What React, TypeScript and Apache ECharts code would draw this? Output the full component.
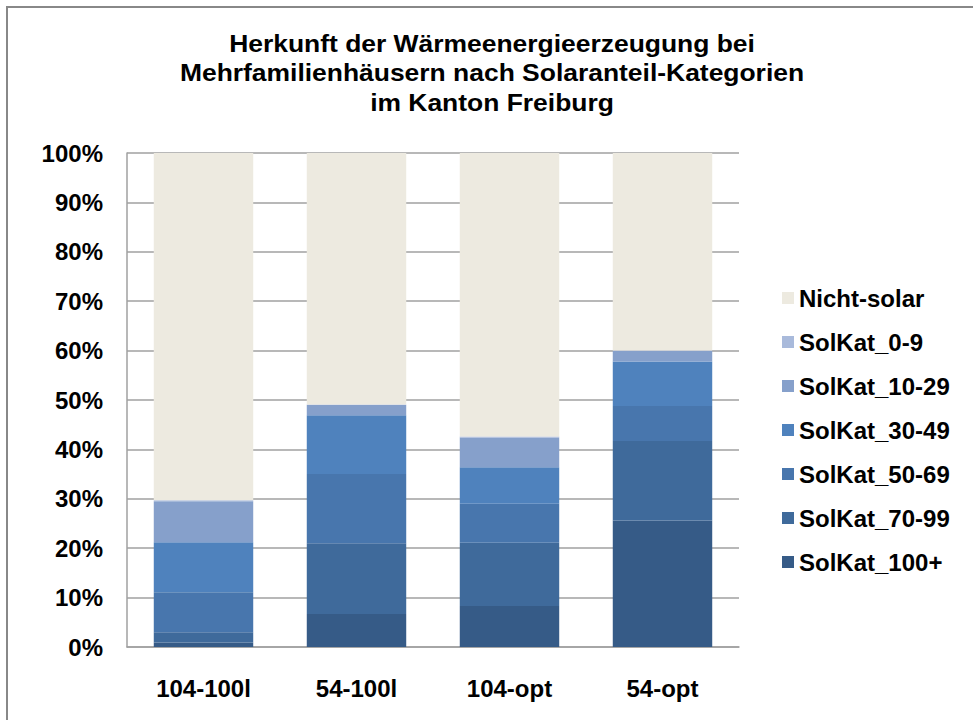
import React, { useEffect, useRef } from "react";
import * as echarts from "echarts";

const categories = ["104-100l", "54-100l", "104-opt", "54-opt"];
const solKat100 = [0.9, 6.7, 8.3, 25.6];
const solKat70 = [2.1, 14.3, 12.8, 16.1];
const solKat50 = [8.1, 14.0, 7.9, 7.1];
const solKat30 = [10.1, 11.9, 7.4, 9.0];
const solKat10 = [8.3, 2.1, 6.0, 2.1];
const solKat0 = [0.2, 0.1, 0.2, 0.1];
const nichtSolar = [70.3, 50.9, 57.4, 40.0];

const titleText =
  "Herkunft der Wärmeenergieerzeugung bei\nMehrfamilienhäusern nach Solaranteil-Kategorien\nim Kanton Freiburg";

const seriesDefs = [
  { name: "SolKat_100+", data: solKat100, color: "#365B87" },
  { name: "SolKat_70-99", data: solKat70, color: "#3F6A9B" },
  { name: "SolKat_50-69", data: solKat50, color: "#4876AD" },
  { name: "SolKat_30-49", data: solKat30, color: "#4F82BD" },
  { name: "SolKat_10-29", data: solKat10, color: "#86A0CB" },
  { name: "SolKat_0-9", data: solKat0, color: "#A9BADB" },
  { name: "Nicht-solar", data: nichtSolar, color: "#EDEAE0" },
];

const FONT = "'Liberation Sans', Arial, sans-serif";

export default function App() {
  const ref = useRef<HTMLDivElement>(null);
  useEffect(() => {
    if (!ref.current) return;
    const chart = echarts.init(ref.current, null, { renderer: "svg" });
    chart.setOption({
      animation: false,
      backgroundColor: "#ffffff",
      textStyle: { fontFamily: FONT },
      graphic: [
        {
          type: "rect",
          shape: { x: 7, y: 7, width: 990, height: 740 },
          style: { fill: "none", stroke: "#888888", lineWidth: 2 },
          silent: true,
        },
        {
          type: "text",
          x: 492,
          y: 29,
          scaleX: 1.15,
          style: {
            text: titleText,
            fontFamily: FONT,
            fontSize: 23,
            fontWeight: "bold",
            fill: "#000",
            lineHeight: 29.5,
            align: "center",
            verticalAlign: "top",
          },
        },
      ],
      legend: {
        orient: "vertical",
        left: 777,
        top: 281,
        itemWidth: 12,
        itemHeight: 12,
        itemGap: 20,
        icon: "rect",
        data: [
          "Nicht-solar",
          "SolKat_0-9",
          "SolKat_10-29",
          "SolKat_30-49",
          "SolKat_50-69",
          "SolKat_70-99",
          "SolKat_100+",
        ],
        textStyle: {
          fontFamily: FONT,
          fontSize: 24,
          fontWeight: "bold",
          color: "#000",
          lineHeight: 23,
        },
      },
      grid: { left: 127, right: 234, top: 153, bottom: 73 },
      xAxis: {
        type: "category",
        data: categories,
        axisLine: { lineStyle: { color: "#A0A0A0", width: 1.5 } },
        axisTick: { show: false },
        axisLabel: {
          fontFamily: FONT,
          fontSize: 24,
          fontWeight: "bold",
          color: "#000",
          margin: 29,
        },
      },
      yAxis: {
        type: "value",
        min: 0,
        max: 100,
        interval: 10,
        axisLine: { show: true, lineStyle: { color: "#A0A0A0", width: 1.5 } },
        axisTick: { show: false },
        splitLine: { lineStyle: { color: "#A0A0A0", width: 1.5 } },
        axisLabel: {
          fontFamily: FONT,
          fontSize: 24,
          fontWeight: "bold",
          color: "#000",
          margin: 24,
          formatter: "{value}%",
        },
      },
      series: seriesDefs.map((s) => ({
        name: s.name,
        type: "bar",
        stack: "total",
        barWidth: "65%",
        data: s.data,
        itemStyle: { color: s.color },
      })),
    });
    return () => chart.dispose();
  }, []);
  return (
    <div
      ref={ref}
      style={{ position: "fixed", left: 0, top: 0, width: 973, height: 720 }}
    />
  );
}
